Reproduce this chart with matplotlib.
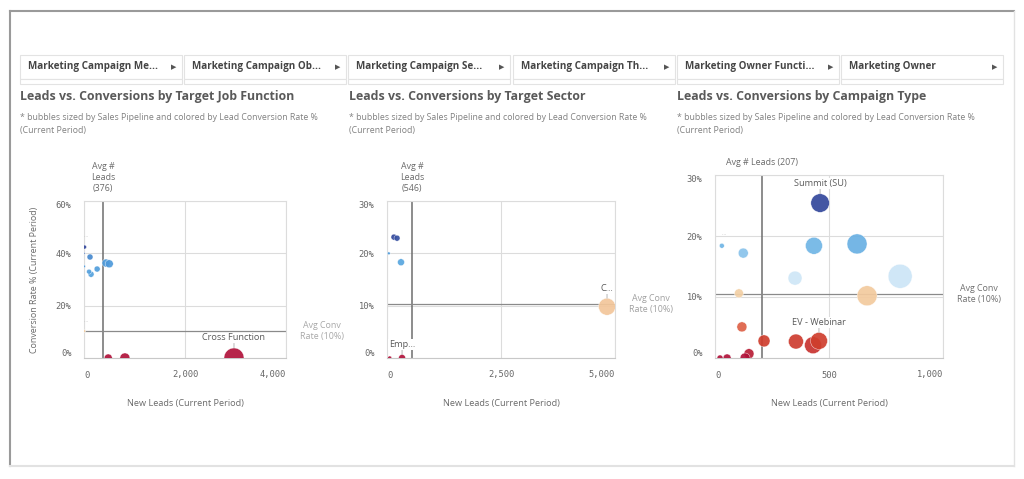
import matplotlib
matplotlib.use('Agg')
import matplotlib.pyplot as plt
from matplotlib.colors import LinearSegmentedColormap, TwoSlopeNorm
from matplotlib.patches import Rectangle
from matplotlib.lines import Line2D

W, H = 1024, 479
SANS = ['Open Sans', 'DejaVu Sans']
MONO = 'DejaVu Sans Mono'

# filter bar
filter_labels = ['Marketing Campaign Me...', 'Marketing Campaign Ob...', 'Marketing Campaign Se...',
                 'Marketing Campaign Th...', 'Marketing Owner Functi...', 'Marketing Owner']

# panel 1 - target job function
jf_leads = [2970, 810, 480, 435, 500, 119, 140, 260, 100, 10, 0, 0, 10]
jf_rate = [0.0, 0.0, 0.0, 36.3, 36.0, 38.6, 32.0, 34.0, 33.0, 42.4, 40.0, 35.0, 10.3]
jf_pipeline = [100, 25, 16, 16, 16, 9, 9, 9, 6, 4, 1, 2, 1.5]
jf_avg_leads = 376
jf_avg_rate = 10.3

# panel 2 - target sector
ts_leads = [4825, 330, 307, 153, 220, 60, 40]
ts_rate = [9.8, 0.0, 18.3, 23.1, 22.9, 0.0, 20.0]
ts_pipeline = [72, 12, 12, 9, 9, 4, 2]
ts_avg_leads = 546
ts_avg_rate = 10.3

# panel 3 - campaign type
ct_leads = [812, 623, 667, 461, 434, 430, 456, 355, 351, 215, 124, 118, 149, 132, 105, 53, 22, 30]
ct_rate = [13.4, 18.7, 10.2, 25.4, 18.4, 2.1, 2.8, 2.7, 13.1, 2.8, 17.2, 5.1, 0.7, 0.0, 10.6, 0.0, 0.0, 18.4]
ct_pipeline = [144, 100, 100, 86, 72, 72, 72, 56, 49, 36, 25, 25, 25, 25, 20, 16, 9, 6]
ct_avg_leads = 207
ct_avg_rate = 10.5

panels = [
    dict(title='Leads vs. Conversions by Target Job Function', x0=20,
         box=(84, 286, 201, 358), leads=jf_leads, rate=jf_rate, pipe=jf_pipeline,
         avg_leads=jf_avg_leads, avg_rate=jf_avg_rate, xmax=4000, ymax=60,
         xticks=[0, 2000, 4000], yticks=[0, 20, 40, 60],
         avg_lbl='Avg #\nLeads\n(376)', conv_col='#a8a8a8',
         labels=[(0, 'Cross Function'), (12, '…'), (9, '…')]),
    dict(title='Leads vs. Conversions by Target Sector', x0=349,
         box=(387, 615, 201, 358), leads=ts_leads, rate=ts_rate, pipe=ts_pipeline,
         avg_leads=ts_avg_leads, avg_rate=ts_avg_rate, xmax=5000, ymax=30,
         xticks=[0, 2500, 5000], yticks=[0, 10, 20, 30],
         avg_lbl='Avg #\nLeads\n(546)', conv_col='#a0a0a0',
         labels=[(0, 'C...'), (1, 'Emp...')]),
    dict(title='Leads vs. Conversions by Campaign Type', x0=677,
         box=(715, 943, 175, 358), leads=ct_leads, rate=ct_rate, pipe=ct_pipeline,
         avg_leads=ct_avg_leads, avg_rate=ct_avg_rate, xmax=1000, ymax=30,
         xticks=[0, 500, 1000], yticks=[0, 10, 20, 30],
         avg_lbl='Avg # Leads (207)', conv_col='#707070',
         labels=[(3, 'Summit (SU)'), (6, 'EV - Webinar'), (17, '…')]),
]

cmap = LinearSegmentedColormap.from_list('qlik', [
    (0.0, '#b0123a'), (0.07, '#c22a30'), (0.14, '#d0402d'), (0.26, '#e0664a'),
    (0.38, '#eea47c'), (0.5, '#f4cfa2'), (0.56, '#dcedf9'), (0.68, '#a6d3f1'),
    (0.8, '#5aa8e0'), (0.93, '#4a95d8'), (1.0, '#33479b')])


def fx(x):
    return x / W


def fy(y):
    return 1 - y / H


fig = plt.figure(figsize=(W / 100, H / 100), dpi=100)
fig.patch.set_facecolor('white')

# outer frame
fig.add_artist(Line2D([fx(10), fx(10)], [fy(11), fy(466)], color='#9a9a9a', lw=1.5))
fig.add_artist(Line2D([fx(10), fx(1014)], [fy(11), fy(11)], color='#9a9a9a', lw=1.5))
fig.add_artist(Line2D([fx(1014), fx(1014)], [fy(11), fy(466)], color='#e2e2e2', lw=1))
fig.add_artist(Line2D([fx(10), fx(1014)], [fy(466), fy(466)], color='#e2e2e2', lw=1.5))

# filter boxes
box_left = [20, 184, 348, 513, 677, 841]
for i, lbl in enumerate(filter_labels):
    l = box_left[i]
    r = l + 162
    fig.add_artist(Rectangle((fx(l), fy(79)), (r - l) / W, 24 / H, transform=fig.transFigure,
                             facecolor='white', edgecolor='#e3e3e3', lw=0.8))
    fig.add_artist(Rectangle((fx(l), fy(84)), (r - l) / W, 5 / H, transform=fig.transFigure,
                             facecolor='white', edgecolor='#e3e3e3', lw=0.8))
    fig.text(fx(l + 8), fy(67), lbl, fontsize=7.1, fontweight='bold', color='#454545',
             family=SANS, va='center', ha='left')
    fig.text(fx(r - 8), fy(67), '▶', fontsize=5, color='#555555', family='DejaVu Sans',
             va='center', ha='center')

for p in panels:
    l, r, t, b = p['box']
    fig.text(fx(p['x0']), fy(97), p['title'], fontsize=8.95, fontweight='bold', color='#5a5a5a',
             family=SANS, va='center', ha='left')
    fig.text(fx(p['x0']), fy(118), '* bubbles sized by Sales Pipeline and colored by Lead Conversion Rate %',
             fontsize=6.35, color='#808080', family=SANS, va='center', ha='left')
    fig.text(fx(p['x0']), fy(130), '(Current Period)', fontsize=6.35, color='#808080',
             family=SANS, va='center', ha='left')

    ax = fig.add_axes([fx(l), fy(b), (r - l) / W, (b - t) / H])
    ax.set_xlim(0, p['xmax'])
    ax.set_ylim(0, p['ymax'])
    ax.grid(True, color='#dcdcdc', lw=0.8)
    ax.set_axisbelow(True)
    for s in ax.spines.values():
        s.set_color('#dcdcdc')
        s.set_linewidth(0.8)
    ax.spines['bottom'].set_color('#c8c8c8')

    ax.set_xticks(p['xticks'])
    ax.set_xticklabels([f'{v:,}' for v in p['xticks']])
    ax.set_yticks(p['yticks'])
    ax.set_yticklabels([f'{v}%' for v in p['yticks']])
    ax.tick_params(length=0, labelsize=6.3, labelcolor='#666666', pad=9)
    for tl in ax.get_xticklabels() + ax.get_yticklabels():
        tl.set_family(MONO)
    xt = ax.get_xticklabels()
    xt[0].set_ha('left')
    xt[-1].set_ha('right')
    yt = ax.get_yticklabels()
    yt[0].set_va('bottom')
    yt[-1].set_va('top')

    ax.set_xlabel('New Leads (Current Period)', fontsize=6.6, color='#6a6a6a', family=SANS, labelpad=14)

    # average reference lines
    ax.axvline(p['avg_leads'], color='#6e6e6e', lw=1.1, zorder=1.5)
    ax.axhline(p['avg_rate'], color='#8a8a8a', lw=0.9, zorder=1.5)

    norm = TwoSlopeNorm(vmin=0, vcenter=p['avg_rate'], vmax=max(p['rate']))
    sizes = [v * 2.07 for v in p['pipe']]
    ax.scatter(p['leads'], p['rate'], s=sizes, c=p['rate'], cmap=cmap, norm=norm,
               alpha=0.92, edgecolors='white', linewidths=0.3, zorder=3)

    ax.annotate(p['avg_lbl'], xy=(p['avg_leads'], 1), xycoords=('data', 'axes fraction'),
                xytext=(0, 6), textcoords='offset points', ha='center', va='bottom',
                fontsize=6.4, color='#6a6a6a', family=SANS, linespacing=1.25,
                annotation_clip=False)
    ax.annotate('Avg Conv\nRate (10%)', xy=(1, p['avg_rate']), xycoords=('axes fraction', 'data'),
                xytext=(26, 0), textcoords='offset points', ha='center', va='center',
                fontsize=6.4, color=p['conv_col'], family=SANS, linespacing=1.3,
                annotation_clip=False)

    for idx, txt in p['labels']:
        rad = (p['pipe'][idx] ** 0.5) * 0.72
        if txt == '…':
            ax.annotate(txt, xy=(p['leads'][idx], p['rate'][idx]),
                        xytext=(1, rad + 5), textcoords='offset points',
                        ha='center', va='bottom', fontsize=4, color='#c0c0c0',
                        family=SANS, zorder=5, annotation_clip=False)
            continue
        ax.annotate(txt, xy=(p['leads'][idx], p['rate'][idx]),
                    xytext=(0, rad + 4), textcoords='offset points',
                    ha='center', va='bottom', fontsize=6.6, color='#5a5a5a', family=SANS, zorder=5,
                    bbox=dict(boxstyle='square,pad=0.1', fc='white', ec='none'),
                    arrowprops=dict(arrowstyle='-', color='#aaaaaa', lw=0.6,
                                    shrinkA=0, shrinkB=rad),
                    annotation_clip=False)

    if p is panels[0]:
        ax.set_ylabel('Conversion Rate % (Current Period)', fontsize=6.4, color='#6a6a6a',
                      family=SANS, labelpad=12)

fig.savefig('out.png', dpi=100, facecolor='white')
